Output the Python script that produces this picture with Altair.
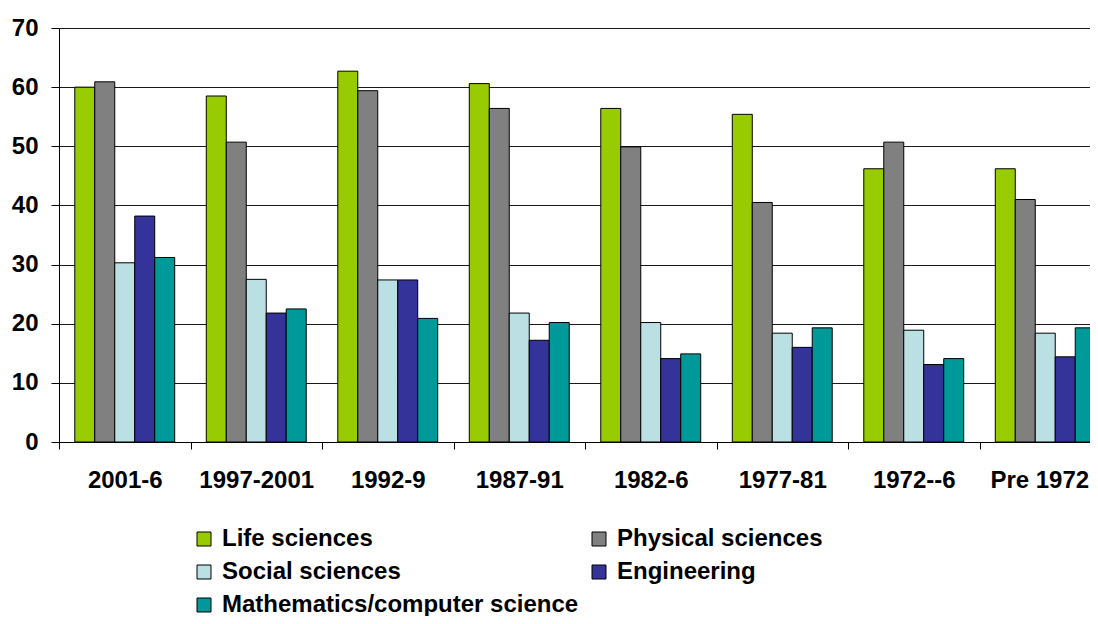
import altair as alt
import pandas as pd

periods = ["2001-6", "1997-2001", "1992-9", "1987-91", "1982-6", "1977-81", "1972--6", "Pre 1972"]
series_names = ["Life sciences", "Physical sciences", "Social sciences", "Engineering",
                "Mathematics/computer science"]
life = [60.0, 58.5, 62.7, 60.6, 56.4, 55.4, 46.2, 46.2]
physical = [60.9, 50.7, 59.4, 56.4, 49.9, 40.5, 50.7, 41.0]
social = [30.3, 27.5, 27.4, 21.8, 20.2, 18.4, 18.9, 18.4]
engineering = [38.2, 21.8, 27.4, 17.2, 14.1, 16.0, 13.1, 14.4]
math_cs = [31.2, 22.5, 20.9, 20.2, 14.9, 19.3, 14.1, 19.3]
colors = ["#99CC00", "#808080", "#BBE0E3", "#333399", "#009999"]
y_ticks = [0, 10, 20, 30, 40, 50, 60, 70]

values = [life, physical, social, engineering, math_cs]
rows = []
for name, vals in zip(series_names, values):
    for p, v in zip(periods, vals):
        rows.append({"period": p, "series": name, "value": v})
df = pd.DataFrame(rows)

FONT = "Liberation Sans"

chart = alt.Chart(df).mark_bar(stroke="black", strokeWidth=1).encode(
    x=alt.X("period:N", sort=periods, title=None,
            scale=alt.Scale(paddingInner=0, paddingOuter=0, range=[0, 1052]),
            axis=alt.Axis(labelAngle=0, tickBand="extent", tickSize=7, labelPadding=19,
                          labelOffset={"expr": "datum.value === 'Pre 1972' ? -6 : 0"},
                          labelFontSize=24, labelFont=FONT, labelFontWeight="bold",
                          labelColor="black", domainColor="black", tickColor="black",
                          grid=False)),
    xOffset=alt.XOffset("series:N", sort=series_names,
                        scale=alt.Scale(paddingInner=0, paddingOuter=0.79)),
    y=alt.Y("value:Q", title=None,
            scale=alt.Scale(domain=[0, 70], nice=False),
            axis=alt.Axis(values=y_ticks, tickSize=8, labelPadding=13,
                          labelFontSize=24, labelFont=FONT, labelFontWeight="bold",
                          labelColor="black", domainColor="black", tickColor="black",
                          gridColor="#1a1a1a", gridWidth=1, grid=True)),
    color=alt.Color("series:N", sort=series_names,
                    scale=alt.Scale(domain=series_names, range=colors),
                    legend=alt.Legend(title=None, orient="none", legendX=133, legendY=499,
                                      direction="horizontal",
                                      columns=2, columnPadding=8, rowPadding=9,
                                      symbolType="square", symbolSize=196,
                                      symbolStrokeColor="black", symbolStrokeWidth=1,
                                      labelFontSize=24, labelFont=FONT, labelFontWeight="bold",
                                      labelColor="black", labelOffset=6, labelLimit=0)),
).properties(
    width=1031, height=414,
    autosize=alt.AutoSizeParams(type="none"),
    padding={"left": 51, "top": 20, "right": 0, "bottom": 174},
    background="white",
).configure_view(stroke=None)

chart.save("out.html", embed_options={"renderer": "svg", "actions": False})
